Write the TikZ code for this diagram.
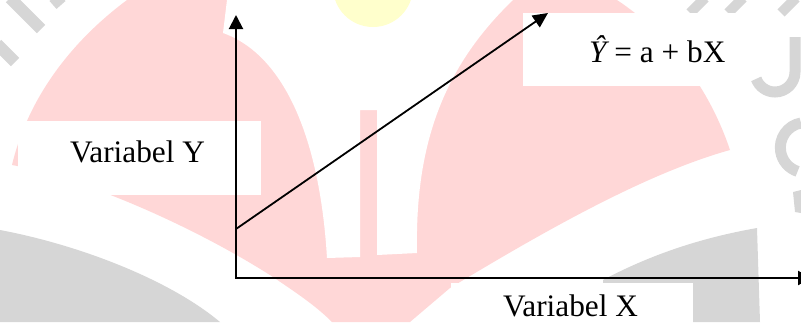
\documentclass[tikz,border=0pt]{standalone}
\usepackage{fontspec}
\setmainfont{Liberation Serif}
\usetikzlibrary{arrows.meta}
\definecolor{wmpink}{HTML}{FFD7D7}
\definecolor{wmgray}{HTML}{D6D6D6}
\definecolor{wmyellow}{HTML}{FFFFCC}
\begin{document}
\begin{tikzpicture}[x=1pt,y=-1pt,
  lbl/.style={font=\fontsize{31.3}{36}\selectfont, inner sep=0pt, text depth=0pt, anchor=base west},
  axisline/.style={line width=2pt, -{Triangle[length=14pt,width=14pt]}},
  regline/.style={line width=1.8pt, -{Triangle[length=15pt,width=14pt]}},
  wmstroke/.style={wmgray, line width=12pt, line cap=butt},
  labelbox/.style={fill=white}]
\useasboundingbox (0,0) rectangle (801,322);
% --- watermark ---
\fill[wmpink] (127,0) .. controls (60,50) and (25,110) .. (12,165)
  .. controls (90,180) and (200,230) .. (273,277)
  .. controls (295,292) and (315,305) .. (332,322)
  -- (410,322) -- (450,288)
  .. controls (530,240) and (640,175) .. (730,150)
  .. controls (710,90) and (670,35) .. (617,0) -- cycle;
\fill[white] (227,0) -- (223,33) .. controls (285,55) and (320,140) .. (327,258)
  -- (360,257) -- (360,110) -- (377,110) -- (377,255) -- (417,253)
  .. controls (415,150) and (440,70) .. (513,0) -- cycle;
\fill[wmgray] (0,230) .. controls (80,245) and (170,280) .. (220,322) -- (0,322) -- cycle;
\fill[wmgray] (603,280) .. controls (650,255) and (700,238) .. (757,228) -- (760,322) -- (603,322) -- cycle;
\draw[wmstroke] (10,-2) -- (41,29);
\draw[wmstroke] (-3,44) -- (15,62);
\draw[wmstroke] (54,-3) -- (61,5);
\draw[wmstroke, line width=10pt] (690,13) -- (705,-2);
\draw[wmstroke, line width=10pt] (728,13) -- (743,-2);
\draw[wmstroke, line width=10pt] (781,13) -- (796,-2);
\draw[wmstroke, line width=11pt] (795,37) -- (795,72) arc[start angle=0, end angle=160, radius=20];
\draw[wmstroke, line width=11pt] (801,123) arc[start angle=260, end angle=108, radius=25];
\fill[wmgray] (793,192) -- (801,190) -- (801,213) -- (795,212) -- cycle;
\fill[wmyellow] (373,-13) circle[radius=40];
% --- label boxes ---
\fill[labelbox] (18,121) rectangle (261,195);
\fill[labelbox] (523,13) rectangle (745,86);
\fill[labelbox] (451,283) rectangle (693,330);
% --- axes and line ---
\coordinate (O) at (236,278);
\coordinate (ytip) at (236,15);
\coordinate (xtip) at (812,278);
\coordinate (lstart) at (236,229);
\coordinate (ltip) at (548,13);
\draw[axisline] (O) -- (ytip);
\draw[axisline] ([xshift=-1pt]O) -- (xtip);
\draw[regline] (lstart) -- (ltip);
% --- texts ---
\node[lbl] (vy) at (70,162) {Variabel Y};
\node[lbl] (vx) at (503,316) {Variabel X};
\node[lbl] (eq) at (589,62) {{\itshape Ŷ} = a + bX};
\end{tikzpicture}
\end{document}
